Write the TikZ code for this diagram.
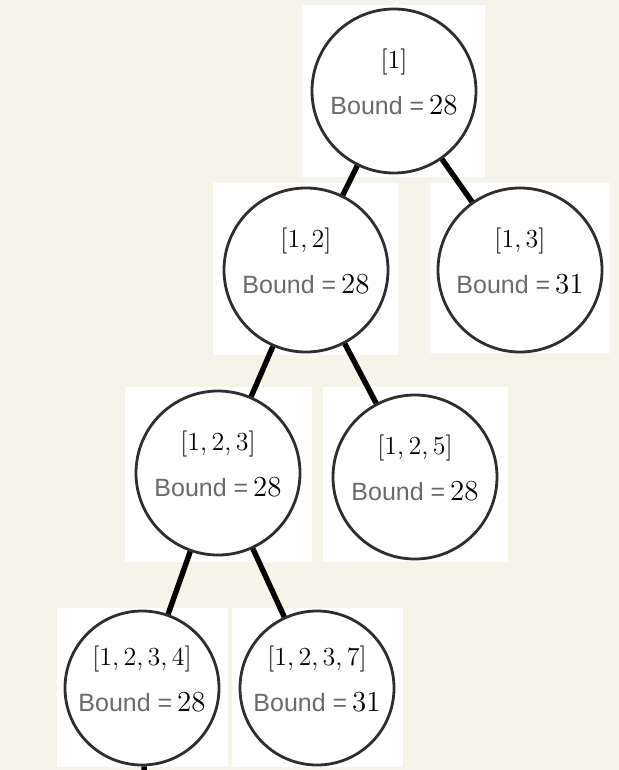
\documentclass[tikz,border=0pt]{standalone}
\usepackage{fontspec}
\setsansfont{Liberation Sans}
\usepackage{tikz}
\usetikzlibrary{calc}
\definecolor{paper}{HTML}{F6F4E8}
\definecolor{ring}{HTML}{2E2E2E}
\definecolor{boundgray}{HTML}{6A6A6A}

\begin{document}
\begin{tikzpicture}[
  x=0.5pt, y=-0.5pt, line cap=round, line join=round,
  patch/.style={fill=white, draw=none},
  state/.style={circle, draw=ring, line width=1.4pt, inner sep=0pt,
                minimum size=82pt},
  leaf/.style={state, minimum size=77pt},
  lst/.style={font=\fontsize{13}{15}\selectfont},
  bnd/.style={font=\fontsize{14.5}{16}\selectfont},
  tr/.style={black, line width=2.7pt, line cap=butt}]

\fill[paper] (0,0) rectangle (619,770);
\useasboundingbox (0,0) rectangle (619,770);

% ================================================ white patches behind nodes
\foreach \xa/\ya/\xb/\yb in {302/5/485/177, 213/183/398/355, 430/183/610/353,
    125/387/312/562, 323/387/508/562, 57/608/228/767, 232/608/403/767}
  \fill[patch] (\xa,\ya) rectangle (\xb,\yb);

% ================================================ branch and bound tree
\node[state] (n1) at (394,91)  {};
\node[state] (n2) at (306,270) {};
\node[state] (n3) at (520,270) {};
\node[state] (n4) at (218,473) {};
\node[state] (n5) at (415,477) {};
\node[leaf]  (n6) at (142,688) {};
\node[leaf]  (n7) at (317,688) {};
\coordinate (tail) at (145,800);

\foreach \n/\l/\b in {n1/{[1]}/28, n2/{[1,\,2]}/28, n3/{[1,\,3]}/31,
    n4/{[1,\,2,\,3]}/28, n5/{[1,\,2,\,5]}/28, n6/{[1,\,2,\,3,\,4]}/28,
    n7/{[1,\,2,\,3,\,7]}/31} {
  \node[lst] (\n l) at ($(\n)+(0,-29)$) {\l};
  \node[bnd] (\n b) at ($(\n)+(0,14)$)
    {{\sffamily\fontsize{12.5}{14}\selectfont\color{boundgray}Bound =}\,\b};
}

\draw[tr] (n1) -- (n2);
\draw[tr] (n1) -- (n3);
\draw[tr] (n2) -- (n4);
\draw[tr] (n2) -- (n5);
\draw[tr] (n4) -- (n6);
\draw[tr] (n4) -- (n7);
\draw[tr] (n6) -- (tail);

\end{tikzpicture}
\end{document}
